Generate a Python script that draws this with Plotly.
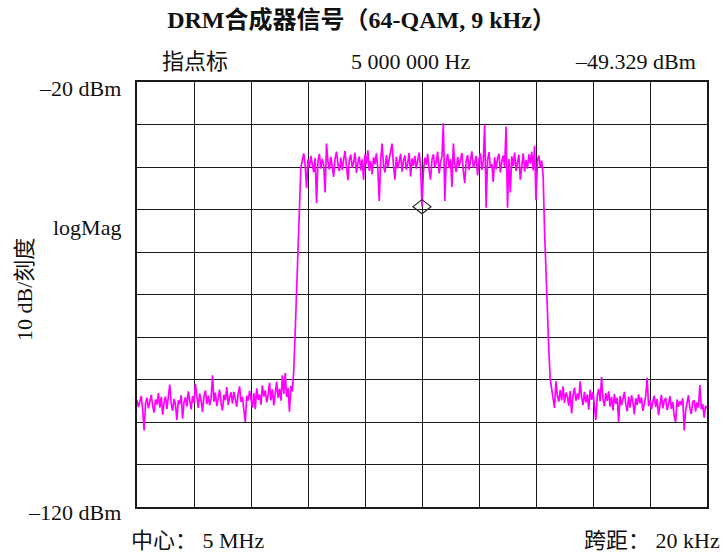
import numpy as np
import plotly.graph_objects as go

# ---------------- data ----------------
f_start_mhz = 4.99
f_stop_mhz = 5.01

left_floor_dbm = [
    -94.8, -96.5, -95.2, -93.9, -97.1, -102.0, -95.6, -94.3, -96.8, -95.0,
    -93.6, -96.2, -97.8, -94.7, -95.9, -93.2, -96.6, -94.1, -98.3, -95.4,
    -94.0, -96.9, -93.5, -91.2, -95.7, -97.4, -94.6, -96.0, -99.5, -94.9,
    -95.8, -93.7, -99.2, -95.3, -94.2, -96.4, -92.8, -95.1, -97.0, -93.9,
    -95.5, -91.0, -94.4, -96.7, -93.3, -95.0, -97.6, -94.0, -92.6, -95.8,
    -93.8, -96.1, -94.5, -89.0, -95.2, -93.1, -96.3, -94.7, -92.4, -95.6,
    -97.3, -93.6, -94.9, -91.8, -96.0, -94.2, -93.0, -95.7, -92.9, -94.6,
    -96.4, -93.4, -91.6, -95.3, -94.1, -97.2, -100.0, -93.8, -95.0, -92.7,
    -94.4, -96.6, -93.2, -97.0, -92.1, -94.8, -93.5, -95.9, -91.4, -94.0,
    -92.6, -95.4, -93.7, -90.8, -94.9, -92.3, -96.1, -93.0, -90.5, -94.3,
    -92.2, -95.0, -89.0, -93.4, -88.5, -94.1, -92.0, -97.6, -91.5, -92.8,
]
rise_dbm = [-88.0, -79.0, -70.0, -60.0, -50.0, -40.0]
plateau_dbm = [
    -38.5, -36.8, -39.6, -45.0, -38.2, -40.1, -37.4, -39.8, -41.2, -37.9,
    -48.5, -38.6, -36.9, -40.4, -38.1, -39.5, -46.0, -34.5, -38.8, -40.6,
    -37.6, -39.9, -42.3, -38.0, -36.4, -39.2, -41.0, -37.8, -40.7, -38.4,
    -36.2, -39.7, -43.1, -38.3, -37.1, -40.2, -38.9, -36.6, -41.4, -39.0,
    -37.5, -40.8, -38.2, -43.0, -37.0, -39.4, -36.1, -40.9, -38.6, -41.7,
    -37.7, -39.3, -36.8, -40.5, -48.0, -38.4, -34.5, -39.6, -41.3, -37.2,
    -40.0, -38.1, -36.5, -34.5, -39.8, -43.0, -37.6, -40.3, -38.7, -36.9,
    -41.1, -38.5, -37.3, -40.6, -39.1, -36.7, -42.2, -38.0, -39.7, -37.4,
    -40.4, -38.3, -36.6, -40.0, -49.3, -41.0, -37.8, -39.5, -36.9, -40.7,
    -43.0, -38.2, -37.0, -40.1, -38.8, -36.4, -41.5, -39.0, -37.5, -29.7,
    -48.0, -38.6, -36.9, -40.3, -38.1, -44.7, -34.5, -39.4, -41.2, -37.6,
    -39.9, -38.3, -36.7, -41.0, -43.8, -38.5, -37.2, -40.6, -38.9, -36.3,
    -40.2, -39.1, -37.4, -42.0, -38.2, -36.8, -40.7, -38.6, -30.0, -49.6,
    -38.4, -36.5, -40.1, -39.3, -43.5, -37.7, -40.5, -38.0, -36.9, -41.3,
    -38.7, -37.3, -40.0, -30.5, -49.6, -38.1, -46.0, -37.5, -39.8, -36.6,
    -40.9, -38.4, -37.1, -43.0, -39.5, -36.8, -41.1, -38.3, -40.4, -37.0,
    -39.2, -36.4, -40.8, -35.0, -47.8, -38.6, -37.3, -40.1, -38.5,
]
fall_dbm = [-42.0, -55.0, -66.0, -75.0, -83.0, -90.0]
right_floor_dbm = [
    -92.0, -94.6, -96.7, -90.4, -93.8, -95.2, -92.5, -94.9, -91.6, -95.5,
    -93.1, -94.0, -96.2, -92.7, -98.0, -93.6, -91.9, -95.0, -93.3, -94.7,
    -90.4, -94.2, -96.0, -92.9, -95.4, -93.5, -97.1, -92.4, -94.8, -93.0,
    -95.6, -99.5, -93.8, -92.2, -95.1, -89.4, -94.5, -96.3, -93.2, -95.0,
    -92.8, -96.4, -94.1, -97.3, -93.4, -95.7, -94.3, -100.0, -93.9, -96.1,
    -94.6, -92.9, -95.8, -97.5, -94.0, -96.6, -93.7, -95.3, -98.2, -94.4,
    -96.0, -93.5, -95.6, -94.2, -97.4, -95.1, -93.9, -89.6, -96.3, -94.8,
    -97.0, -95.2, -93.8, -96.5, -94.6, -98.4, -95.4, -93.6, -96.8, -95.0,
    -94.3, -97.2, -95.8, -93.9, -96.9, -95.3, -98.6, -100.0, -94.7, -96.4,
    -95.1, -96.0, -94.4, -102.0, -97.3, -95.6, -93.7, -96.8, -98.1, -95.2,
    -94.9, -97.5, -95.4, -96.6, -91.3, -97.0, -95.8, -99.0, -96.2, -96.8,
]

trace_dbm = left_floor_dbm + rise_dbm + plateau_dbm + fall_dbm + right_floor_dbm
freq_mhz = np.linspace(f_start_mhz, f_stop_mhz, len(trace_dbm))

marker_freq_mhz = 5.0
marker_level_dbm = -49.329

y_min_dbm = -120
y_max_dbm = -20

# ---------------- figure ----------------
W, H = 723, 555
L, R, T, B = 137, 16, 82, 48
PW, PH = W - L - R, H - T - B

def px(xp):
    return (xp - L) / PW

def py(yp):
    return (H - B - yp) / PH

SERIF = "Liberation Serif, Times New Roman, Noto Sans CJK SC, serif"

fig = go.Figure()
fig.add_trace(go.Scatter(
    x=freq_mhz, y=trace_dbm, mode="lines",
    line=dict(color="#FF00FF", width=1.7),
    hoverinfo="skip", showlegend=False,
))

# marker diamond (pixel-sized, anchored at marker value)
fig.add_shape(
    type="path", xref="x", yref="y",
    xsizemode="pixel", ysizemode="pixel",
    xanchor=marker_freq_mhz, yanchor=marker_level_dbm,
    path="M -9 0 L 0 7 L 9 0 L 0 -7 Z",
    line=dict(color="#222222", width=1.2),
    fillcolor="rgba(0,0,0,0)", layer="above",
)

axis_common = dict(
    showgrid=True, gridcolor="#1a1a1a", gridwidth=1.3,
    showline=True, linecolor="#1a1a1a", linewidth=1.5, mirror=True,
    zeroline=False, showticklabels=False, ticks="",
)
fig.update_xaxes(range=[f_start_mhz, f_stop_mhz], tick0=f_start_mhz,
                 dtick=(f_stop_mhz - f_start_mhz) / 10, **axis_common)
fig.update_yaxes(range=[y_min_dbm, y_max_dbm], tick0=y_min_dbm, dtick=10,
                 **axis_common)

fs = 22
ann = [
    dict(text="指点标", x=px(195), y=py(62), xanchor="center"),
    dict(text="5 000 000 Hz", x=px(410), y=py(62), xanchor="center"),
    dict(text="–49.329 dBm", x=px(698), y=py(62), xanchor="right"),
    dict(text=f"{y_max_dbm:d} dBm".replace("-", "–"), x=px(123), y=py(88), xanchor="right"),
    dict(text="logMag", x=px(123), y=py(227), xanchor="right"),
    dict(text=f"{y_min_dbm:d} dBm".replace("-", "–"), x=px(123), y=py(512), xanchor="right"),
    dict(text="中心： 5 MHz", x=px(129), y=py(540), xanchor="left"),
    dict(text="跨距： 20 kHz", x=px(722), y=py(540), xanchor="right"),
]
for a in ann:
    fig.add_annotation(xref="paper", yref="paper", yanchor="middle",
                       showarrow=False, font=dict(family=SERIF, size=fs, color="#111"), **a)
fig.add_annotation(text="10 dB/刻度", xref="paper", yref="paper", x=px(24), y=py(290),
                   xanchor="center", yanchor="middle", textangle=-90, showarrow=False,
                   font=dict(family=SERIF, size=fs, color="#111"))

fig.update_layout(
    width=W, height=H,
    margin=dict(l=L, r=R, t=T, b=B),
    paper_bgcolor="white", plot_bgcolor="white",
    title=dict(text="<b>DRM合成器信号（64-QAM, 9 kHz）</b>", x=0.5, xanchor="center",
               y=1 - 20 / H, yanchor="middle",
               font=dict(family=SERIF, size=24, color="#111")),
)

fig.write_html("out.html", config={"displayModeBar": False},
               post_script="document.body.style.margin='0';")
